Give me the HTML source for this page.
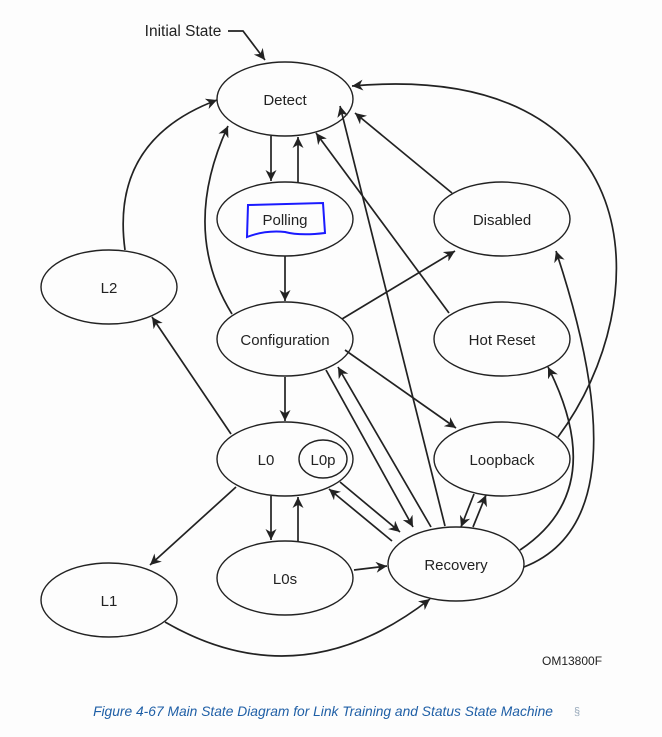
<!DOCTYPE html>
<html><head><meta charset="utf-8"><style>
html,body{margin:0;padding:0;background:#fdfdfd;}
svg{display:block;}
text{font-family:"Liberation Sans",sans-serif;}
</style></head><body>
<svg width="662" height="737" viewBox="0 0 662 737" xmlns="http://www.w3.org/2000/svg">
<defs>
<marker id="a" viewBox="0 0 10 10" refX="10" refY="5" markerWidth="11" markerHeight="11" markerUnits="userSpaceOnUse" orient="auto"><path d="M0,0 L10,5 L0,10 L3,5 z" fill="#222"/></marker>
</defs>
<g fill="none" stroke="#222" stroke-width="1.4">
<ellipse cx="285" cy="99" rx="68" ry="37"/>
<ellipse cx="285" cy="219" rx="68" ry="37"/>
<ellipse cx="502" cy="219" rx="68" ry="37"/>
<ellipse cx="109" cy="287" rx="68" ry="37"/>
<ellipse cx="285" cy="339" rx="68" ry="37"/>
<ellipse cx="502" cy="339" rx="68" ry="37"/>
<ellipse cx="285" cy="459" rx="68" ry="37"/>
<ellipse cx="323" cy="459" rx="24" ry="19"/>
<ellipse cx="502" cy="459" rx="68" ry="37"/>
<ellipse cx="285" cy="578" rx="68" ry="37"/>
<ellipse cx="456" cy="564" rx="68" ry="37"/>
<ellipse cx="109" cy="600" rx="68" ry="37"/>
</g>
<g fill="none" stroke="#222" stroke-width="1.7" marker-end="url(#a)">
<path d="M228,31 L243,31 L265,60"/>
<path d="M271,136 L271,181"/>
<path d="M298,182 L298,137"/>
<path d="M285,256 L285,301"/>
<path d="M285,377 L285,421"/>
<path d="M271,496 L271,540"/>
<path d="M298,541 L298,497"/>
<path d="M354,570 L387,566"/>
<path d="M165,622 Q300,700 430,599"/>
<path d="M236,487 L150,565"/>
<path d="M231,434 L152,317"/>
<path d="M125,250 Q110,140 217,100"/>
<path d="M232,314 Q180,230 228,126"/>
<path d="M342,319 L455,251"/>
<path d="M345,350 L456,428"/>
<path d="M326,370 L413,527"/>
<path d="M431,527 L338,367"/>
<path d="M445,526 L340,106"/>
<path d="M340,482 L400,532"/>
<path d="M392,541 L329,489"/>
<path d="M474,494 L461,527"/>
<path d="M473,527 L486,495"/>
<path d="M520,550 Q610,490 548,367"/>
<path d="M524,567 Q645,520 556,251"/>
<path d="M558,437 C660,300 650,60 352,86"/>
<path d="M452,193 L355,113"/>
<path d="M449,313 L316,133"/>
</g>
<path d="M248,205 L323,203 L325,233 Q300,236 285,232 Q265,230 247,237 Z" fill="none" stroke="#1a1aff" stroke-width="2"/>
<g font-size="15" fill="#222" text-anchor="middle">
<text x="285" y="105">Detect</text>
<text x="285" y="225">Polling</text>
<text x="502" y="225">Disabled</text>
<text x="109" y="293">L2</text>
<text x="285" y="345">Configuration</text>
<text x="502" y="345">Hot Reset</text>
<text x="266" y="465">L0</text>
<text x="323" y="465">L0p</text>
<text x="502" y="465">Loopback</text>
<text x="285" y="584">L0s</text>
<text x="456" y="570">Recovery</text>
<text x="109" y="606">L1</text>
<text x="183" y="36" font-size="15.5">Initial State</text>
</g>
<text x="542" y="665" font-size="12" fill="#222">OM13800F</text>
<text x="323" y="716" font-size="13.8" font-style="italic" fill="#1f5fa6" text-anchor="middle">Figure 4-67 Main State Diagram for Link Training and Status State Machine</text>
<text x="574" y="715" font-size="11" fill="#9ab">§</text>
</svg>
</body></html>
